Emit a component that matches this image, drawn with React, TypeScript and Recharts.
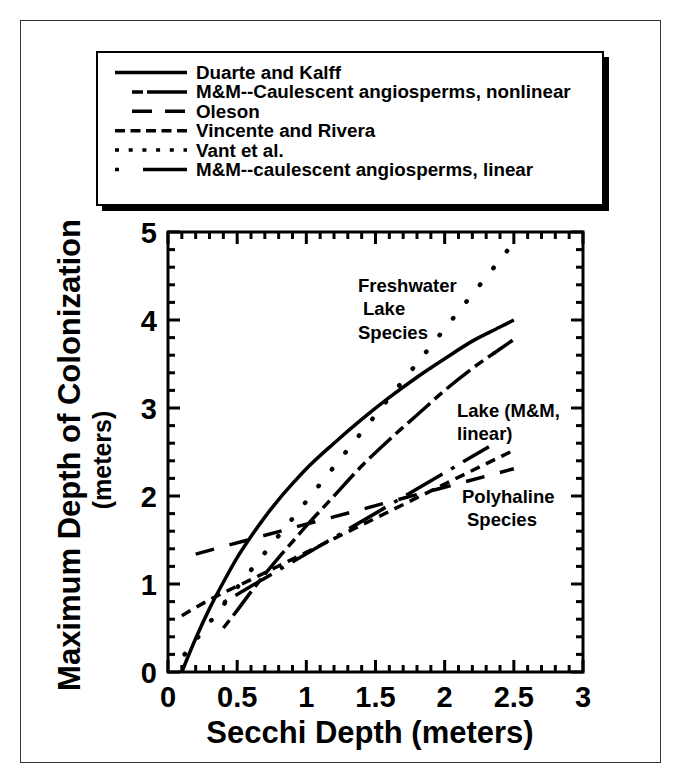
import React from "react";
import { LineChart, Line, XAxis, YAxis, ReferenceArea } from "recharts";

// Secchi depth (x) vs maximum depth of colonization (y)
const DUARTE_X = [0.1, 0.2, 0.3, 0.4, 0.5, 0.6, 0.7, 0.8, 0.9, 1.0, 1.2, 1.4, 1.6, 1.8, 2.0, 2.2, 2.4, 2.5];
const DUARTE_Y = [0, 0.38, 0.72, 1.02, 1.3, 1.54, 1.76, 1.96, 2.14, 2.31, 2.6, 2.87, 3.12, 3.35, 3.56, 3.76, 3.92, 4.0];

const MM_NONLIN_X = [0.4, 0.5, 0.6, 0.7, 0.8, 0.9, 1.0, 1.2, 1.4, 1.6, 1.8, 2.0, 2.2, 2.4, 2.5];
const MM_NONLIN_Y = [0.5, 0.7, 0.91, 1.11, 1.3, 1.48, 1.66, 2.0, 2.34, 2.64, 2.92, 3.2, 3.45, 3.67, 3.78];

const OLESON_X = [0.2, 1.0, 1.5, 2.0, 2.5];
const OLESON_Y = [1.34, 1.68, 1.89, 2.1, 2.31];

const VINCENTE_X = [0.1, 0.3, 0.6, 1.0, 1.4, 1.8, 2.2, 2.5];
const VINCENTE_Y = [0.64, 0.82, 1.05, 1.36, 1.67, 1.98, 2.29, 2.52];

const VANT_X = [0.12, 0.5, 1.0, 1.5, 2.0, 2.5];
const VANT_Y = [0.2, 0.96, 1.94, 2.92, 3.9, 4.88];

const MM_LIN_X = [0.4, 2.32];
const MM_LIN_Y = [0.79, 2.56];

const SERIES_NAMES = [
  "Duarte and Kalff",
  "M&M--Caulescent angiosperms, nonlinear",
  "Oleson",
  "Vincente and Rivera",
  "Vant et al.",
  "M&M--caulescent angiosperms, linear",
];

const X_MAJOR_TICKS = [0, 0.5, 1, 1.5, 2, 2.5, 3];
const X_TICK_LABELS = ["0", "0.5", "1", "1.5", "2", "2.5", "3"];
const Y_MAJOR_TICKS = [0, 1, 2, 3, 4, 5];
const Y_TICK_LABELS = ["0", "1", "2", "3", "4", "5"];

const X_MINOR_TICKS = Array.from({ length: 31 }, (_, i) => i / 10);
const Y_MINOR_TICKS = Array.from({ length: 26 }, (_, i) => i / 5);

// styling
const FONT = "'Liberation Sans', Arial, Helvetica, sans-serif";
const W = 681;
const H = 783;
const PLOT_LEFT = 168;
const PLOT_RIGHT = 583;
const PLOT_TOP = 232;
const PLOT_BOTTOM = 672;
const PLOT_W = PLOT_RIGHT - PLOT_LEFT;
const PLOT_H = PLOT_BOTTOM - PLOT_TOP;

const LINE_DASH = [undefined, "10 6 30 6", "19 16", "10 7", "0.5 21", "4 10 42 10"];
const LEGEND_DASH = [undefined, "11 4 40 4", "20 13", "10 5.5", "4 9.7", "4 24 44 10"];
const LEGEND_START = [115, 132, 132, 115, 115, 115];

const toPoints = (xs: number[], ys: number[]) => xs.map((x, i) => ({ x, y: ys[i] }));

const SERIES = [
  { id: "duarte", pts: toPoints(DUARTE_X, DUARTE_Y) },
  { id: "mmnonlin", pts: toPoints(MM_NONLIN_X, MM_NONLIN_Y) },
  { id: "oleson", pts: toPoints(OLESON_X, OLESON_Y) },
  { id: "vincente", pts: toPoints(VINCENTE_X, VINCENTE_Y) },
  { id: "vant", pts: toPoints(VANT_X, VANT_Y) },
  { id: "mmlin", pts: toPoints(MM_LIN_X, MM_LIN_Y) },
];

const isMajor = (v: number, list: number[]) => list.findIndex((m) => Math.abs(m - v) < 1e-6);

function XTick(props: any) {
  const { x, y, payload } = props;
  const idx = isMajor(payload.value, X_MAJOR_TICKS);
  const len = idx >= 0 ? 12 : 7;
  return (
    <g>
      <line x1={x} y1={y} x2={x} y2={y - len} stroke="#000" strokeWidth={3} />
      <line x1={x} y1={y - PLOT_H} x2={x} y2={y - PLOT_H + len} stroke="#000" strokeWidth={3} />
      {idx >= 0 && (
        <text x={x} y={y + 35} textAnchor="middle" fontFamily={FONT} fontWeight="bold" fontSize={29} fill="#000">
          {X_TICK_LABELS[idx]}
        </text>
      )}
    </g>
  );
}

function YTick(props: any) {
  const { x, y, payload } = props;
  const idx = isMajor(payload.value, Y_MAJOR_TICKS);
  const len = idx >= 0 ? 12 : 7;
  return (
    <g>
      <line x1={x} y1={y} x2={x + len} y2={y} stroke="#000" strokeWidth={3} />
      <line x1={x + PLOT_W} y1={y} x2={x + PLOT_W - len} y2={y} stroke="#000" strokeWidth={3} />
      {idx >= 0 && (
        <text x={x - 11} y={y + 10.5} textAnchor="end" fontFamily={FONT} fontWeight="bold" fontSize={29} fill="#000">
          {Y_TICK_LABELS[idx]}
        </text>
      )}
    </g>
  );
}

function Overlay() {
  const rowY = (i: number) => 72.5 + i * 19.4;
  const note = { fontFamily: FONT, fontWeight: "bold" as const, fontSize: 18.5, fill: "#000" };
  return (
    <svg width={W} height={H} style={{ position: "absolute", left: 0, top: 0, pointerEvents: "none" }}>
      <rect x={20.5} y={20.5} width={640} height={742} fill="none" stroke="#333" strokeWidth={1} />

      {/* legend box with drop shadow */}
      <rect x={102} y={57} width={507} height={154} fill="#000" />
      <rect x={97} y={52} width={506} height={153} fill="#fff" stroke="#000" strokeWidth={2} />
      {SERIES_NAMES.map((name, i) => (
        <g key={name}>
          <line
            x1={LEGEND_START[i]}
            x2={187}
            y1={rowY(i)}
            y2={rowY(i)}
            stroke="#000"
            strokeWidth={3.5}
            strokeDasharray={LEGEND_DASH[i]}
          />
          <text x={196} y={rowY(i) + 6.5} {...note} fontSize={18.8}>
            {name}
          </text>
        </g>
      ))}

      {/* annotations */}
      <text x={358} y={292} {...note}>Freshwater</text>
      <text x={363} y={315} {...note}>Lake</text>
      <text x={358} y={339} {...note}>Species</text>
      <text x={457} y={417} {...note}>Lake (M&amp;M,</text>
      <text x={457} y={440} {...note}>linear)</text>
      <text x={462} y={503} {...note}>Polyhaline</text>
      <text x={467} y={526} {...note}>Species</text>

      {/* axis titles */}
      <text
        transform={`translate(80, 455) rotate(-90)`}
        textAnchor="middle"
        fontFamily={FONT}
        fontWeight="bold"
        fontSize={31}
        fill="#000"
      >
        Maximum Depth of Colonization
      </text>
      <text
        transform={`translate(111, 460) rotate(-90)`}
        textAnchor="middle"
        fontFamily={FONT}
        fontWeight="bold"
        fontSize={25}
        fill="#000"
      >
        (meters)
      </text>
      <text x={370} y={743} textAnchor="middle" fontFamily={FONT} fontWeight="bold" fontSize={31} fill="#000">
        Secchi Depth (meters)
      </text>
    </svg>
  );
}

export default function App() {
  return (
    <div style={{ position: "relative", width: W, height: H, background: "#fff" }}>
      <style>{`body{margin:0;background:#fff}`}</style>
      <LineChart
        width={W}
        height={H}
        margin={{ top: PLOT_TOP, right: W - PLOT_RIGHT, left: PLOT_LEFT - 60, bottom: H - PLOT_BOTTOM - 40 }}
      >
        <XAxis
          dataKey="x"
          type="number"
          domain={[0, 3]}
          ticks={X_MINOR_TICKS}
          interval={0}
          allowDataOverflow
          height={40}
          tickSize={0}
          tickMargin={0}
          axisLine={false}
          tickLine={false}
          tick={<XTick />}
        />
        <YAxis
          type="number"
          domain={[0, 5]}
          ticks={Y_MINOR_TICKS}
          interval={0}
          allowDataOverflow
          width={60}
          tickSize={0}
          tickMargin={0}
          axisLine={false}
          tickLine={false}
          tick={<YTick />}
        />
        <ReferenceArea x1={0} x2={3} y1={0} y2={5} fill="none" stroke="#000" strokeWidth={3} ifOverflow="visible" />
        {SERIES.map((s, i) => (
          <Line
            key={s.id}
            data={s.pts}
            dataKey="y"
            name={SERIES_NAMES[i]}
            type="monotone"
            stroke="#000"
            strokeWidth={i === 4 ? 4.5 : 3.5}
            strokeDasharray={LINE_DASH[i]}
            strokeLinecap={i === 4 ? "round" : "butt"}
            dot={false}
            activeDot={false}
            isAnimationActive={false}
          />
        ))}
      </LineChart>
      <Overlay />
    </div>
  );
}
